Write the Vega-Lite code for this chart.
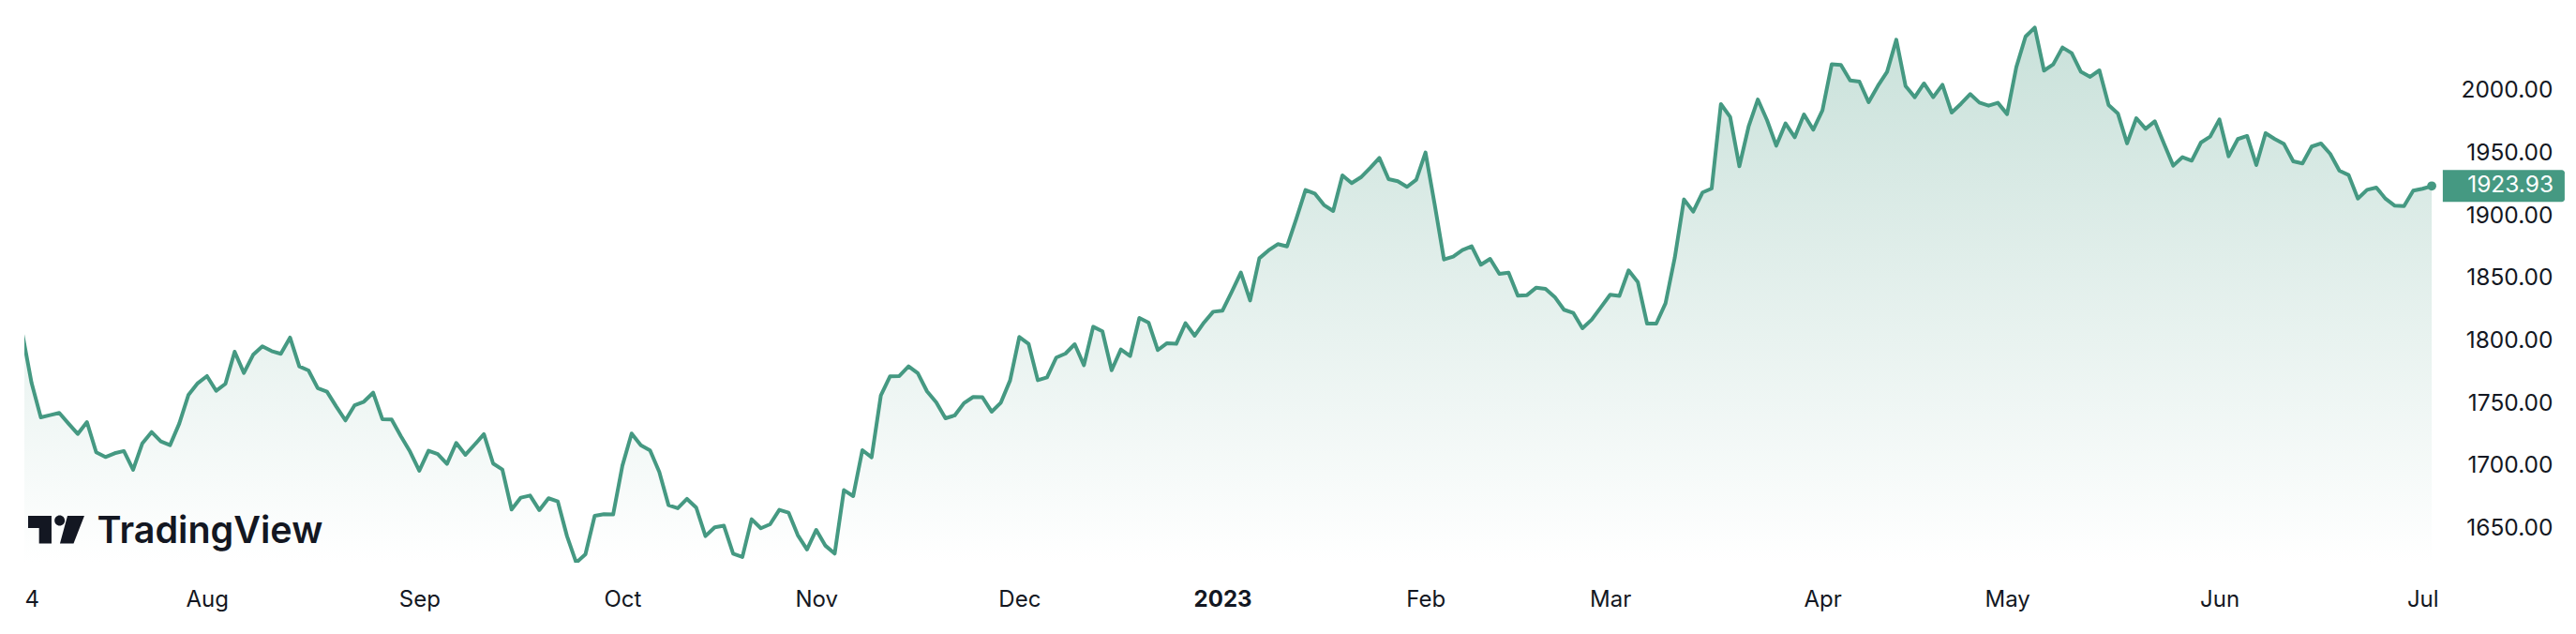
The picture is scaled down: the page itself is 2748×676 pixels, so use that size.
{
  "$schema": "https://vega.github.io/schema/vega-lite/v6.json",
  "autosize": {"type": "none"},
  "padding": {"left": 26, "top": 0, "right": 148, "bottom": 76},
  "width": 2574,
  "height": 600,
  "background": "#ffffff",
  "config": {"view": {"stroke": null}},
  "datasets": {
    "prices": [
      {"session":0,"close":1806.0},{"session":1,"close":1766.3},{"session":2,"close":1738.8},{"session":3,"close":1740.5},{"session":4,"close":1742.3},{"session":5,"close":1733.8},{"session":6,"close":1725.5},{"session":7,"close":1735.0},{"session":8,"close":1710.8},{"session":9,"close":1707.0},
      {"session":10,"close":1710.0},{"session":11,"close":1711.8},{"session":12,"close":1696.8},{"session":13,"close":1718.0},{"session":14,"close":1727.0},{"session":15,"close":1719.5},{"session":16,"close":1716.5},{"session":17,"close":1733.8},{"session":18,"close":1756.8},{"session":19,"close":1766.1},
      {"session":20,"close":1771.8},{"session":21,"close":1760.0},{"session":22,"close":1765.6},{"session":23,"close":1791.3},{"session":24,"close":1774.3},{"session":25,"close":1788.8},{"session":26,"close":1795.6},{"session":27,"close":1791.8},{"session":28,"close":1789.6},{"session":29,"close":1802.6},
      {"session":30,"close":1779.6},{"session":31,"close":1776.3},{"session":32,"close":1762.1},{"session":33,"close":1759.3},{"session":34,"close":1747.5},{"session":35,"close":1736.3},{"session":36,"close":1748.5},{"session":37,"close":1751.3},{"session":38,"close":1758.5},{"session":39,"close":1737.3},
      {"session":40,"close":1737.0},{"session":41,"close":1723.8},{"session":42,"close":1711.3},{"session":43,"close":1696.0},{"session":44,"close":1712.0},{"session":45,"close":1709.3},{"session":46,"close":1701.5},{"session":47,"close":1718.3},{"session":48,"close":1708.8},{"session":49,"close":1717.0},
      {"session":50,"close":1725.3},{"session":51,"close":1701.8},{"session":52,"close":1697.0},{"session":53,"close":1665.0},{"session":54,"close":1674.5},{"session":55,"close":1676.2},{"session":56,"close":1664.5},{"session":57,"close":1674.0},{"session":58,"close":1671.5},{"session":59,"close":1643.7},
      {"session":60,"close":1622.5},{"session":61,"close":1629.2},{"session":62,"close":1660.0},{"session":63,"close":1661.2},{"session":64,"close":1661.0},{"session":65,"close":1700.0},{"session":66,"close":1725.8},{"session":67,"close":1716.5},{"session":68,"close":1712.3},{"session":69,"close":1695.0},
      {"session":70,"close":1668.5},{"session":71,"close":1666.0},{"session":72,"close":1673.5},{"session":73,"close":1666.5},{"session":74,"close":1643.7},{"session":75,"close":1650.7},{"session":76,"close":1652.0},{"session":77,"close":1629.7},{"session":78,"close":1627.0},{"session":79,"close":1657.2},
      {"session":80,"close":1650.0},{"session":81,"close":1653.2},{"session":82,"close":1664.7},{"session":83,"close":1662.5},{"session":84,"close":1644.5},{"session":85,"close":1633.0},{"session":86,"close":1648.7},{"session":87,"close":1636.0},{"session":88,"close":1629.7},{"session":89,"close":1680.5},
      {"session":90,"close":1675.7},{"session":91,"close":1712.5},{"session":92,"close":1706.8},{"session":93,"close":1756.3},{"session":94,"close":1771.6},{"session":95,"close":1771.8},{"session":96,"close":1779.6},{"session":97,"close":1774.1},{"session":98,"close":1759.6},{"session":99,"close":1750.8},
      {"session":100,"close":1738.0},{"session":101,"close":1740.3},{"session":102,"close":1750.1},{"session":103,"close":1755.1},{"session":104,"close":1754.9},{"session":105,"close":1743.3},{"session":106,"close":1750.5},{"session":107,"close":1768.3},{"session":108,"close":1803.1},{"session":109,"close":1797.6},
      {"session":110,"close":1768.5},{"session":111,"close":1770.8},{"session":112,"close":1786.6},{"session":113,"close":1789.8},{"session":114,"close":1797.3},{"session":115,"close":1780.5},{"session":116,"close":1811.3},{"session":117,"close":1807.6},{"session":118,"close":1776.5},{"session":119,"close":1793.1},
      {"session":120,"close":1787.8},{"session":121,"close":1818.3},{"session":122,"close":1814.6},{"session":123,"close":1792.6},{"session":124,"close":1798.1},{"session":125,"close":1797.6},{"session":126,"close":1814.1},{"session":127,"close":1804.1},{"session":128,"close":1814.6},{"session":129,"close":1823.3},
      {"session":130,"close":1824.1},{"session":131,"close":1839.1},{"session":132,"close":1854.6},{"session":133,"close":1832.3},{"session":134,"close":1866.1},{"session":135,"close":1872.4},{"session":136,"close":1877.4},{"session":137,"close":1875.6},{"session":138,"close":1897.6},{"session":139,"close":1920.7},
      {"session":140,"close":1917.9},{"session":141,"close":1908.7},{"session":142,"close":1903.9},{"session":143,"close":1932.4},{"session":144,"close":1926.2},{"session":145,"close":1930.9},{"session":146,"close":1938.4},{"session":147,"close":1946.4},{"session":148,"close":1929.4},{"session":149,"close":1927.7},
      {"session":150,"close":1923.2},{"session":151,"close":1928.9},{"session":152,"close":1950.7},{"session":153,"close":1908.9},{"session":154,"close":1865.1},{"session":155,"close":1867.4},{"session":156,"close":1872.7},{"session":157,"close":1875.7},{"session":158,"close":1860.9},{"session":159,"close":1865.6},
      {"session":160,"close":1853.6},{"session":161,"close":1854.6},{"session":162,"close":1836.1},{"session":163,"close":1836.6},{"session":164,"close":1842.6},{"session":165,"close":1841.6},{"session":166,"close":1835.1},{"session":167,"close":1824.9},{"session":168,"close":1822.4},{"session":169,"close":1810.1},
      {"session":170,"close":1816.9},{"session":171,"close":1826.9},{"session":172,"close":1836.9},{"session":173,"close":1835.9},{"session":174,"close":1856.4},{"session":175,"close":1847.1},{"session":176,"close":1813.8},{"session":177,"close":1813.8},{"session":178,"close":1830.1},{"session":179,"close":1866.4},
      {"session":180,"close":1913.2},{"session":181,"close":1903.4},{"session":182,"close":1918.7},{"session":183,"close":1921.9},{"session":184,"close":1989.5},{"session":185,"close":1979.2},{"session":186,"close":1939.7},{"session":187,"close":1971.5},{"session":188,"close":1993.2},{"session":189,"close":1976.5},
      {"session":190,"close":1956.2},{"session":191,"close":1974.0},{"session":192,"close":1963.0},{"session":193,"close":1981.2},{"session":194,"close":1969.0},{"session":195,"close":1984.5},{"session":196,"close":2021.3},{"session":197,"close":2020.8},{"session":198,"close":2008.5},{"session":199,"close":2007.5},
      {"session":200,"close":1991.0},{"session":201,"close":2004.0},{"session":202,"close":2015.3},{"session":203,"close":2041.0},{"session":204,"close":2004.0},{"session":205,"close":1995.0},{"session":206,"close":2006.0},{"session":207,"close":1995.0},{"session":208,"close":2005.0},{"session":209,"close":1982.7},
      {"session":210,"close":1989.7},{"session":211,"close":1997.5},{"session":212,"close":1990.7},{"session":213,"close":1988.2},{"session":214,"close":1990.5},{"session":215,"close":1981.5},{"session":216,"close":2019.0},{"session":217,"close":2043.5},{"session":218,"close":2050.8},{"session":219,"close":2016.3},
      {"session":220,"close":2021.3},{"session":221,"close":2034.8},{"session":222,"close":2030.3},{"session":223,"close":2015.3},{"session":224,"close":2011.3},{"session":225,"close":2016.5},{"session":226,"close":1988.7},{"session":227,"close":1982.0},{"session":228,"close":1958.0},{"session":229,"close":1978.2},
      {"session":230,"close":1969.7},{"session":231,"close":1975.7},{"session":232,"close":1957.7},{"session":233,"close":1940.2},{"session":234,"close":1947.0},{"session":235,"close":1944.2},{"session":236,"close":1958.7},{"session":237,"close":1963.5},{"session":238,"close":1977.2},{"session":239,"close":1947.7},
      {"session":240,"close":1961.5},{"session":241,"close":1964.0},{"session":242,"close":1940.7},{"session":243,"close":1966.2},{"session":244,"close":1961.5},{"session":245,"close":1957.5},{"session":246,"close":1943.7},{"session":247,"close":1942.0},{"session":248,"close":1955.5},{"session":249,"close":1958.0},
      {"session":250,"close":1949.7},{"session":251,"close":1936.2},{"session":252,"close":1932.7},{"session":253,"close":1913.9},{"session":254,"close":1920.9},{"session":255,"close":1922.7},{"session":256,"close":1913.7},{"session":257,"close":1908.2},{"session":258,"close":1907.9},{"session":259,"close":1920.2},
      {"session":260,"close":1921.7},{"session":261,"close":1923.93}
    ]
  },
  "data": {"name": "prices"},
  "encoding": {
    "x": {
      "field": "session",
      "type": "quantitative",
      "title": null,
      "scale": {"domain": [0.22, 261.6], "nice": false, "zero": false},
      "axis": {
        "values": [1, 20, 43, 65, 86, 108, 130, 152, 172, 195, 215, 238, 260],
        "labelExpr": "{'1':'4','20':'Aug','43':'Sep','65':'Oct','86':'Nov','108':'Dec','130':'2023','152':'Feb','172':'Mar','195':'Apr','215':'May','238':'Jun','260':'Jul'}[datum.value]",
        "grid": false,
        "domain": false,
        "ticks": false,
        "labelFont": "Inter",
        "labelFontSize": 24,
        "labelColor": "#131722",
        "labelPadding": 27,
        "labelOverlap": false,
        "labelFlush": false,
        "labelBound": false,
        "labelFontWeight": {"condition": {"test": "datum.value == 130", "value": "bold"}, "value": "normal"}
      }
    },
    "y": {
      "field": "close",
      "type": "quantitative",
      "title": null,
      "scale": {"domain": [1622.4, 2072.8], "nice": false, "zero": false},
      "axis": {
        "orient": "right",
        "values": [1650, 1700, 1750, 1800, 1850, 1900, 1950, 2000],
        "format": ".2f",
        "grid": false,
        "domain": false,
        "ticks": false,
        "labelFont": "Inter",
        "labelFontSize": 24.5,
        "labelColor": "#131722",
        "labelAlign": "right",
        "labelPadding": 123,
        "labelOverlap": false
      }
    }
  },
  "layer": [
    {
      "mark": {
        "type": "area",
        "clip": true,
        "opacity": 1,
        "color": {
          "gradient": "linear",
          "x1": 0, "y1": 0, "x2": 0, "y2": 1,
          "stops": [
            {"offset": 0, "color": "#c9e1da"},
            {"offset": 1, "color": "#ffffff"}
          ]
        }
      },
      "encoding": {
        "y2": {"datum": 1622.4}
      }
    },
    {
      "mark": {"type": "line", "clip": true, "color": "#459982", "strokeWidth": 4, "strokeJoin": "round"}
    },
    {
      "transform": [{"filter": "datum.session == 261"}],
      "mark": {"type": "point", "filled": true, "color": "#459982", "size": 95, "opacity": 1}
    },
    {
      "transform": [{"filter": "datum.session == 261"}],
      "mark": {"type": "rect", "color": "#459982", "width": 130, "height": 34, "cornerRadiusTopRight": 3, "cornerRadiusBottomRight": 3},
      "encoding": {
        "x": {"datum": 268.8, "type": "quantitative", "scale": {"domain": [0.22, 261.6], "nice": false, "zero": false}}
      }
    },
    {
      "transform": [{"filter": "datum.session == 261"}],
      "mark": {"type": "text", "font": "Inter", "fontSize": 24.5, "color": "#ffffff", "align": "right", "baseline": "middle"},
      "encoding": {
        "x": {"datum": 274.2, "type": "quantitative", "scale": {"domain": [0.22, 261.6], "nice": false, "zero": false}},
        "text": {"field": "close", "type": "quantitative", "format": ".2f"}
      }
    },
    {
      "transform": [{"filter": "datum.session == 0"}],
      "mark": {"type": "text", "font": "Inter", "fontSize": 39.5, "fontWeight": 600, "color": "#131722", "align": "left", "baseline": "alphabetic", "text": "TradingView"},
      "encoding": {
        "x": {"datum": 8.1, "type": "quantitative", "scale": {"domain": [0.22, 261.6], "nice": false, "zero": false}},
        "y": {"datum": 1638, "type": "quantitative", "scale": {"domain": [1622.4, 2072.8], "nice": false, "zero": false}}
      }
    },
    {
      "transform": [{"filter": "datum.session == 0"}],
      "mark": {
        "type": "point",
        "filled": true,
        "opacity": 1,
        "color": "#131722",
        "size": 3600,
        "shape": "M-1 -0.5 L-0.167 -0.5 L-0.167 0.483 L-0.61 0.483 L-0.61 -0.067 L-1 -0.067 Z M-0.06 -0.333 A0.183 0.183 0 1 0 0.306 -0.333 A0.183 0.183 0 1 0 -0.06 -0.333 Z M0.4 -0.5 L1 -0.5 L0.617 0.483 L0.133 0.483 Z"
      },
      "encoding": {
        "x": {"datum": 3.67, "type": "quantitative", "scale": {"domain": [0.22, 261.6], "nice": false, "zero": false}},
        "y": {"datum": 1648.7, "type": "quantitative", "scale": {"domain": [1622.4, 2072.8], "nice": false, "zero": false}}
      }
    }
  ]
}
